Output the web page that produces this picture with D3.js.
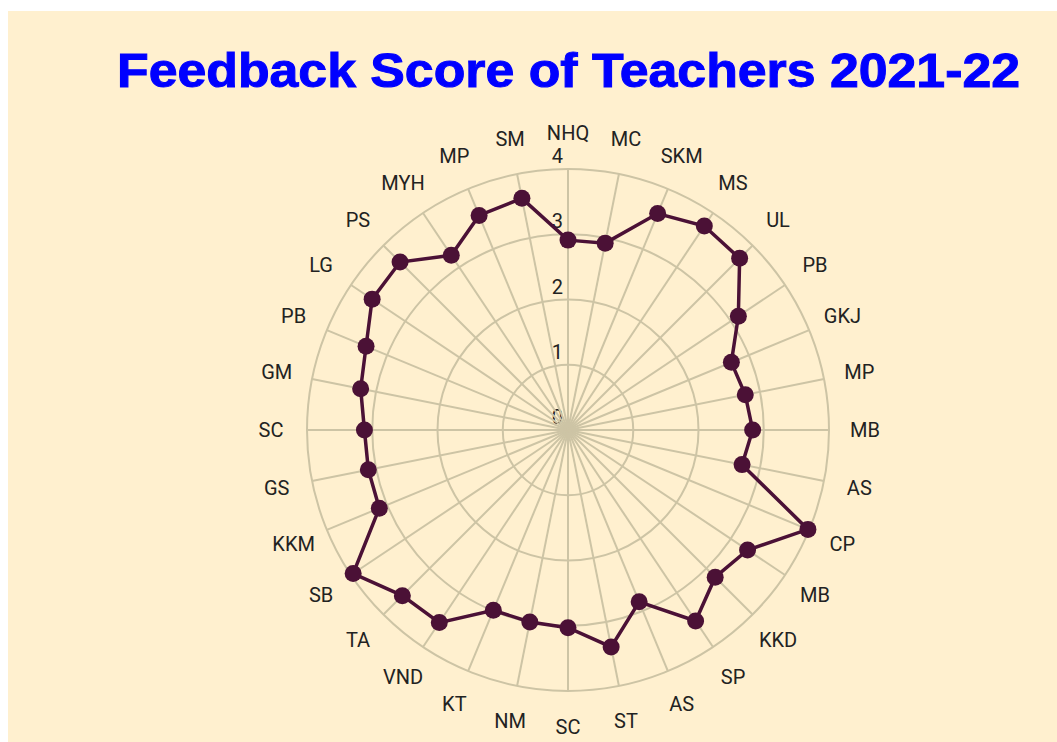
<!DOCTYPE html>
<html>
<head>
<meta charset="utf-8">
<script src="https://cdn.jsdelivr.net/npm/d3@7"></script>
<style>
  html, body { margin: 0; padding: 0; background: #fff; }
  svg { display: block; }
</style>
</head>
<body>
<svg id="chart" width="1057" height="742"></svg>
<script>
// teacher codes, clockwise from the top
var teachers = ["NHQ","MC","SKM","MS","UL","PB","GKJ","MP","MB","AS","CP","MB","KKD","SP","AS","ST",
                "SC","NM","KT","VND","TA","SB","KKM","GS","SC","GM","PB","LG","PS","MYH","MP","SM"];
// feedback scores
var scores = [2.91, 2.92, 3.59, 3.76, 3.72, 3.14, 2.71, 2.77, 2.83, 2.72, 3.98, 3.31, 3.19, 3.52, 2.85, 3.39,
              3.03, 3.00, 2.99, 3.55, 3.59, 3.96, 3.13, 3.12, 3.12, 3.24, 3.35, 3.61, 3.64, 3.22, 3.56, 3.62];
var rTicks = [0, 1, 2, 3, 4];
var titleText = "Feedback Score of Teachers 2021-22";

var svg = d3.select("#chart");
var cx = 568, cy = 430, R = 261;

svg.append("rect")
   .attr("x", 8).attr("y", 11)
   .attr("width", 1057 - 8).attr("height", 742 - 11)
   .attr("fill", "#fff0cf");

svg.append("text")
   .attr("x", 117).attr("y", 87)
   .attr("font-family", "Liberation Sans, Arial, sans-serif")
   .attr("font-weight", "bold")
   .attr("font-size", 48)
   .attr("fill", "#0000ff")
   .attr("stroke", "#0000ff")
   .attr("stroke-width", 1)
   .attr("textLength", 903)
   .attr("lengthAdjust", "spacingAndGlyphs")
   .text(titleText);

var rScale = d3.scaleLinear().domain([0, 4]).range([0, R]);
var aScale = d3.scaleLinear().domain([0, teachers.length]).range([0, 2 * Math.PI]);

var g = svg.append("g").attr("transform", "translate(" + cx + "," + cy + ")");

// radial tick labels (drawn first so grid sits on top, like the "0")
g.selectAll(".rtick")
 .data(rTicks)
 .enter().append("text")
 .attr("class", "rtick")
 .attr("x", -5)
 .attr("y", function(d) { return -rScale(d) - 6; })
 .attr("text-anchor", "end")
 .attr("font-family", "Roboto, sans-serif")
 .attr("font-size", 20)
 .attr("fill", "#222")
 .text(function(d) { return d; });

var gridColor = "#cdc4a5";

g.selectAll(".ring")
 .data(rTicks.slice(1))
 .enter().append("circle")
 .attr("class", "ring")
 .attr("r", function(d) { return rScale(d); })
 .attr("fill", "none")
 .attr("stroke", gridColor)
 .attr("stroke-width", 2);

g.selectAll(".spoke")
 .data(teachers)
 .enter().append("line")
 .attr("class", "spoke")
 .attr("x1", 0).attr("y1", 0)
 .attr("x2", function(d, i) { return rScale(4) * Math.sin(aScale(i)); })
 .attr("y2", function(d, i) { return -rScale(4) * Math.cos(aScale(i)); })
 .attr("stroke", gridColor)
 .attr("stroke-width", 2);

// category labels
g.selectAll(".lbl")
 .data(teachers)
 .enter().append("text")
 .attr("class", "lbl")
 .attr("x", function(d, i) { return (R + 36) * Math.sin(aScale(i)); })
 .attr("y", function(d, i) { return -(R + 36) * Math.cos(aScale(i)); })
 .attr("text-anchor", "middle")
 .attr("dominant-baseline", "central")
 .attr("font-family", "Roboto, sans-serif")
 .attr("font-size", 20)
 .attr("fill", "#222")
 .text(function(d) { return d; });

var line = d3.lineRadial()
  .angle(function(d, i) { return aScale(i); })
  .radius(function(d) { return rScale(d); })
  .curve(d3.curveLinearClosed);

var lineColor = "#4b1136";

g.append("path")
 .datum(scores)
 .attr("d", line)
 .attr("fill", "none")
 .attr("stroke", lineColor)
 .attr("stroke-width", 3.5);

g.selectAll(".pt")
 .data(scores)
 .enter().append("circle")
 .attr("class", "pt")
 .attr("cx", function(d, i) { return rScale(d) * Math.sin(aScale(i)); })
 .attr("cy", function(d, i) { return -rScale(d) * Math.cos(aScale(i)); })
 .attr("r", 8.5)
 .attr("fill", lineColor);
</script>
</body>
</html>
